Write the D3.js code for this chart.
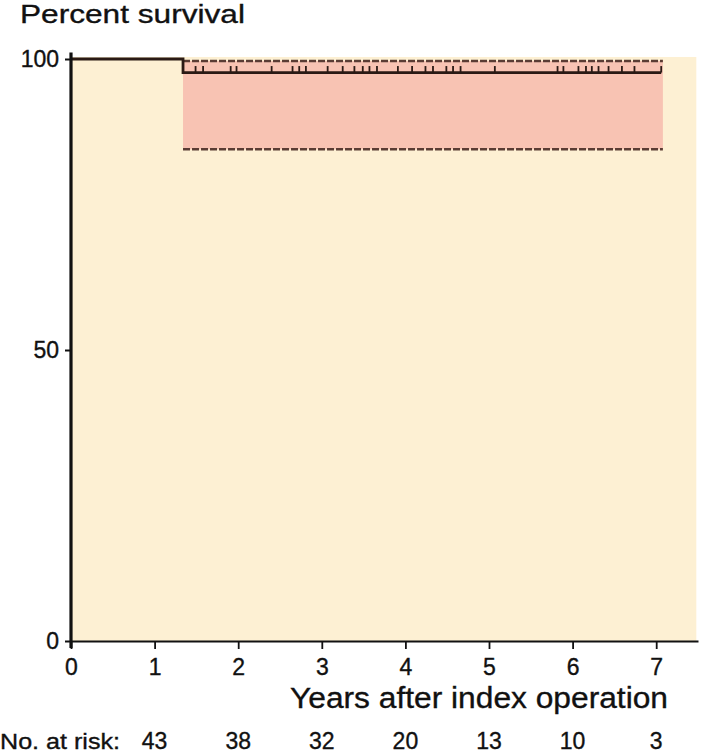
<!DOCTYPE html>
<html>
<head>
<meta charset="utf-8">
<script src="https://cdn.jsdelivr.net/npm/d3@7"></script>
<style>
    body { margin: 0; background: #fff; }
    svg text { font-family: "Liberation Sans", Arial, Helvetica, sans-serif; fill: #111; stroke: #111; stroke-width: 0.35px; }
</style>
</head>
<body>
<script>
    // survival curve (years, percent)
    var stepTimes = [0, 1.34, 7.06];
    var stepValues = [100, 97.67, 97.67];

    // confidence band after the event
    var bandStart = 1.34, bandEnd = 7.08;
    var bandUpper = 99.65, bandLower = 84.5;

    // censored cases (years)
    var censorTimes = [1.49, 1.58, 1.91, 1.98, 2.40, 2.65, 2.73, 2.81, 3.07, 3.25, 3.39,
        3.49, 3.57, 3.66, 3.91, 4.08, 4.24, 4.33, 4.49, 4.57, 4.66, 5.07, 5.82, 5.89,
        6.07, 6.16, 6.23, 6.31, 6.43, 6.59, 6.74, 7.06];

    // axes
    var xTicks = [0, 1, 2, 3, 4, 5, 6, 7];
    var yTicks = [0, 50, 100];

    // numbers at risk
    var riskYears = [1, 2, 3, 4, 5, 6, 7];
    var riskCounts = [43, 38, 32, 20, 13, 10, 3];

    var width = 714, height = 754;

    var svg = d3.select("body").append("svg")
        .attr("width", width)
        .attr("height", height);

    var x = d3.scaleLinear().domain([0, 7.5]).range([71, 698]);
    var y = d3.scaleLinear().domain([0, 100]).range([641, 59]);

    // beige plot background
    svg.append("rect")
        .attr("x", x(0))
        .attr("y", y(100.35))
        .attr("width", x(7.48) - x(0))
        .attr("height", y(0) - y(100.35))
        .attr("fill", "#fdf0d3");

    // confidence band
    svg.append("rect")
        .attr("x", x(bandStart))
        .attr("y", y(bandUpper))
        .attr("width", x(bandEnd) - x(bandStart))
        .attr("height", y(bandLower) - y(bandUpper))
        .attr("fill", "#f8c3b3");

    var dashLine = d3.line().x(d => x(d[0])).y(d => y(d[1]));
    [bandUpper, bandLower].forEach(function (v) {
        svg.append("path")
            .attr("d", dashLine([[bandStart, v], [bandEnd, v]]))
            .attr("fill", "none")
            .attr("stroke", "#5a3c34")
            .attr("stroke-width", 2.6)
            .attr("stroke-dasharray", "7,2");
    });

    // step survival line
    var stepData = stepTimes.map((t, i) => [t, stepValues[i]]);
    var step = d3.line()
        .x(d => x(d[0]))
        .y(d => y(d[1]))
        .curve(d3.curveStepAfter);

    svg.append("path")
        .datum(stepData)
        .attr("d", step)
        .attr("fill", "none")
        .attr("stroke", "#2a1a15")
        .attr("stroke-width", 2.8);

    // censor marks
    svg.selectAll(".censor")
        .data(censorTimes)
        .enter().append("line")
        .attr("class", "censor")
        .attr("x1", d => x(d))
        .attr("x2", d => x(d))
        .attr("y1", y(97.67))
        .attr("y2", y(97.67) - 6.5)
        .attr("stroke", "#2a1a15")
        .attr("stroke-width", 1.8);

    // x axis
    var xAxis = d3.axisBottom(x)
        .tickValues(xTicks)
        .tickFormat(d3.format("d"))
        .tickSize(8)
        .tickSizeOuter(0)
        .tickPadding(10);

    var xg = svg.append("g")
        .attr("transform", "translate(0," + y(0) + ")")
        .call(xAxis);
    xg.select(".domain").attr("stroke", "#111").attr("stroke-width", 2);
    xg.selectAll(".tick line").attr("stroke", "#111").attr("stroke-width", 1.8);
    xg.selectAll(".tick text")
        .style("font-size", "23px")
        .attr("fill", "#111");

    // y axis
    var yAxis = d3.axisLeft(y)
        .tickValues(yTicks)
        .tickFormat(d3.format("d"))
        .tickSize(6)
        .tickSizeOuter(0)
        .tickPadding(6);

    var yg = svg.append("g")
        .attr("transform", "translate(" + x(0) + ",0)")
        .call(yAxis);
    yg.select(".domain").remove();
    yg.append("line")
        .attr("x1", 0).attr("x2", 0)
        .attr("y1", y(101.1)).attr("y2", y(-1.2))
        .attr("stroke", "#111")
        .attr("stroke-width", 3.2);
    yg.selectAll(".tick line").attr("stroke", "#111").attr("stroke-width", 2);
    yg.selectAll(".tick text")
        .style("font-size", "23px")
        .attr("fill", "#111");

    // titles (source type is a little wide, so stretch to its length)
    svg.append("text")
        .attr("x", 20)
        .attr("y", 23)
        .style("font-size", "26px")
        .attr("textLength", 225)
        .attr("lengthAdjust", "spacingAndGlyphs")
        .text("Percent survival");

    svg.append("text")
        .attr("x", 290)
        .attr("y", 708)
        .style("font-size", "29px")
        .attr("textLength", 378)
        .attr("lengthAdjust", "spacingAndGlyphs")
        .text("Years after index operation");

    // numbers at risk row
    svg.append("text")
        .attr("x", 0)
        .attr("y", 749)
        .style("font-size", "22px")
        .attr("textLength", 120)
        .attr("lengthAdjust", "spacingAndGlyphs")
        .text("No. at risk:");

    svg.selectAll(".risk")
        .data(riskCounts)
        .enter().append("text")
        .attr("class", "risk")
        .attr("x", (d, i) => x(riskYears[i]))
        .attr("y", 749)
        .attr("text-anchor", "middle")
        .style("font-size", "23px")
        .text(d => d);
</script>
</body>
</html>
